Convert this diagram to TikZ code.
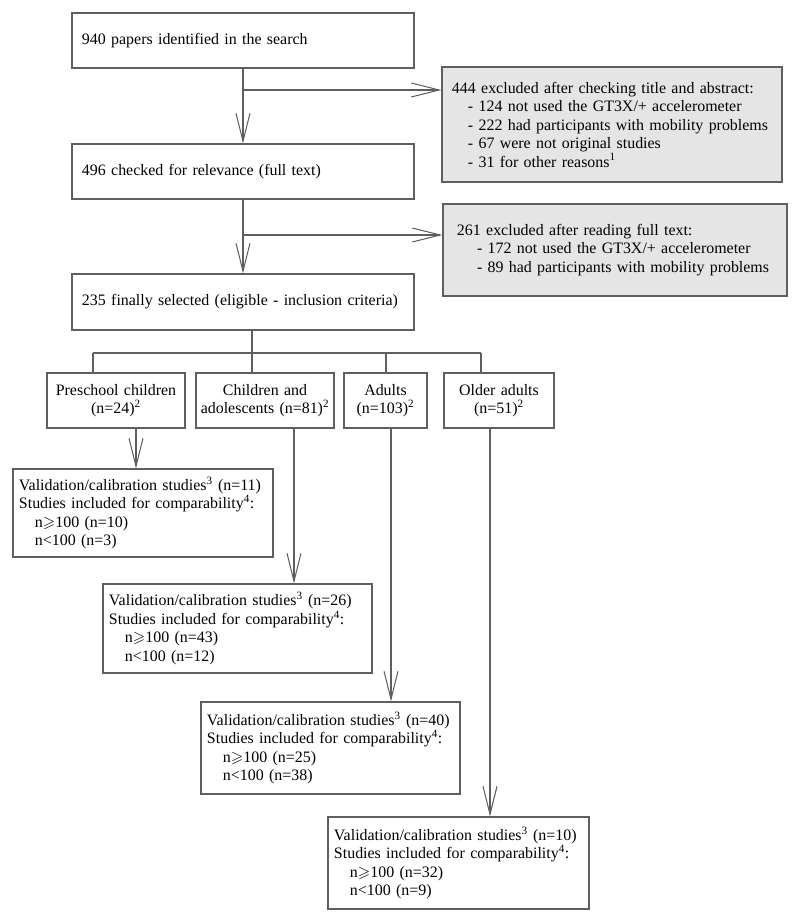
\documentclass[tikz,border=0pt]{standalone}
\usepackage{amssymb}
\usepackage{fontspec}
\setmainfont{Liberation Serif}
\usetikzlibrary{arrows.meta}
\definecolor{linegray}{RGB}{95,95,95}
\definecolor{fillgray}{RGB}{229,229,229}

\begin{document}
\begin{tikzpicture}[x={(0.03cm,0)},y={(0,-0.03cm)},
		font=\fontsize{13.6pt}{15.8pt}\selectfont,
		box/.style={draw=linegray,line width=0.9pt,align=left,inner ysep=0pt,inner xsep=0.3cm},
		excl/.style={box,fill=fillgray},
		group/.style={draw=linegray,line width=0.9pt,align=center,inner sep=0.05cm,minimum height=1.65cm},
		result/.style={box,inner xsep=0.18cm},
		link/.style={draw=linegray,line width=0.9pt},
		arr/.style={link,-{Straight Barb[length=0.84cm,width=0.42cm]}}]
		\useasboundingbox (0,0) rectangle (800,923);

		% search and screening
		\node[box,minimum width=10.26cm,minimum height=1.65cm,text width=9.66cm] (found) at (243,40.5) {940 papers identified in the search};
		\node[box,minimum width=10.26cm,minimum height=1.65cm,text width=9.66cm] (checked) at (243,171.5) {496 checked for relevance (full text)};
		\node[box,minimum width=10.26cm,minimum height=1.68cm,text width=9.66cm] (selected) at (243,302) {235 finally selected (eligible - inclusion criteria)};
		\node[excl,minimum width=10.2cm,minimum height=3.45cm,text width=9.6cm] (excl1) at (612,124.5) {444 excluded after checking title and abstract:\\
			\hspace*{0.48cm}- 124 not used the GT3X/+ accelerometer\\
			\hspace*{0.48cm}- 222 had participants with mobility problems\\
			\hspace*{0.48cm}- 67 were not original studies\\
			\hspace*{0.48cm}- 31 for other reasons\textsuperscript{1}};
		\node[excl,minimum width=10.32cm,minimum height=2.76cm,text width=9.48cm,inner xsep=0.42cm] (excl2) at (615,250) {261 excluded after reading full text:\\
			\hspace*{0.6cm}- 172 not used the GT3X/+ accelerometer\\
			\hspace*{0.6cm}- 89 had participants with mobility problems};

		\draw[arr] (found) -- (checked);
		\draw[arr] (checked) -- (selected);
		\coordinate (b1) at (242,90);
		\coordinate (b2) at (242,235);
		\draw[arr] (b1) -- (b1 -| excl1.west);
		\draw[arr] (b2) -- (b2 -| excl2.west);

		% age groups
		\node[group,minimum width=4.14cm,text width=4.04cm] (pre) at (116,400.5) {Preschool children\\(n=24)\textsuperscript{2}};
		\node[group,minimum width=4.14cm,text width=4.04cm] (chi) at (265,400.5) {Children and\\adolescents (n=81)\textsuperscript{2}};
		\node[group,minimum width=2.49cm,text width=2.39cm] (adu) at (385.5,400.5) {Adults\\(n=103)\textsuperscript{2}};
		\node[group,minimum width=3.3cm,text width=3.2cm] (old) at (499,400.5) {Older adults\\(n=51)\textsuperscript{2}};

		\coordinate (dpre) at (93,353);
		\coordinate (dchi) at (252,353);
		\coordinate (dadu) at (386,353);
		\coordinate (dold) at (481,353);
		\draw[link] (dpre) -- (dold);
		\draw[link] (selected.south -| dchi) -- (dchi |- chi.north);
		\draw[link] (dpre) -- (dpre |- pre.north);
		\draw[link] (dadu) -- (dadu |- adu.north);
		\draw[link] (dold) -- (dold |- old.north);

		% studies per group
		\node[result,minimum width=7.8cm,minimum height=2.64cm,text width=7.44cm] (val1) at (143,513) {Validation/calibration studies\textsuperscript{3} (n=11)\\
			Studies included for comparability\textsuperscript{4}:\\
			\hspace*{0.48cm}n$\geqslant$100 (n=10)\\
			\hspace*{0.48cm}n<100 (n=3)};
		\node[result,minimum width=8.07cm,minimum height=2.67cm,text width=7.71cm] (val2) at (237.5,628.5) {Validation/calibration studies\textsuperscript{3} (n=26)\\
			Studies included for comparability\textsuperscript{4}:\\
			\hspace*{0.48cm}n$\geqslant$100 (n=43)\\
			\hspace*{0.48cm}n<100 (n=12)};
		\node[result,minimum width=7.77cm,minimum height=2.76cm,text width=7.41cm] (val3) at (330.5,748) {Validation/calibration studies\textsuperscript{3} (n=40)\\
			Studies included for comparability\textsuperscript{4}:\\
			\hspace*{0.48cm}n$\geqslant$100 (n=25)\\
			\hspace*{0.48cm}n<100 (n=38)};
		\node[result,minimum width=7.83cm,minimum height=2.76cm,text width=7.47cm] (val4) at (458.5,863) {Validation/calibration studies\textsuperscript{3} (n=10)\\
			Studies included for comparability\textsuperscript{4}:\\
			\hspace*{0.48cm}n$\geqslant$100 (n=32)\\
			\hspace*{0.48cm}n<100 (n=9)};

		\coordinate (xpre) at (136,0);
		\coordinate (xchi) at (294,0);
		\coordinate (xadu) at (391,0);
		\coordinate (xold) at (490,0);
		\draw[arr] (pre.south -| xpre) -- (val1.north -| xpre);
		\draw[arr] (chi.south -| xchi) -- (val2.north -| xchi);
		\draw[arr] (adu.south -| xadu) -- (val3.north -| xadu);
		\draw[arr] (old.south -| xold) -- (val4.north -| xold);

		\end{tikzpicture}
\end{document}
